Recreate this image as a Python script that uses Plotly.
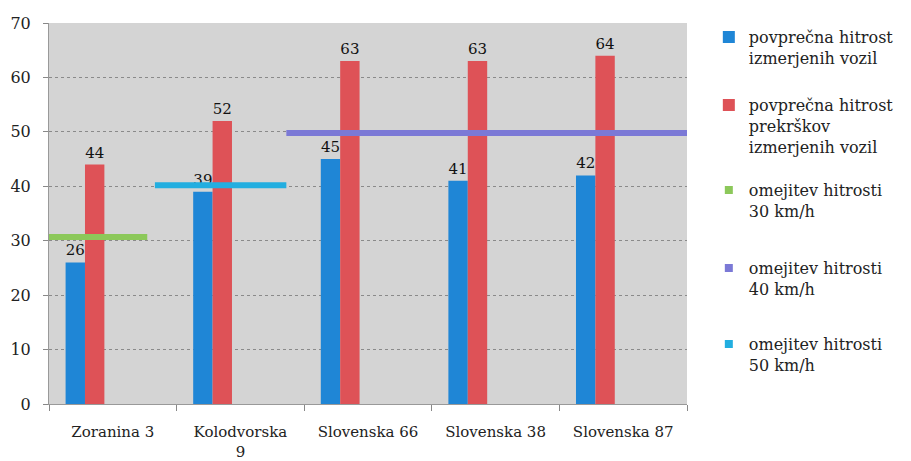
import plotly.graph_objects as go

categories = ["Zoranina 3", "Kolodvorska<br>9", "Slovenska 66", "Slovenska 38", "Slovenska 87"]
avg_speed = [26, 39, 45, 41, 42]
avg_offender_speed = [44, 52, 63, 63, 64]

# speed-limit lines as drawn: (x start, x end) in category units, and level
limit30_x = [-0.5, 0.27]
limit30_y = [30.7, 30.7]
limit_cyan_x = [0.33, 1.36]
limit_cyan_y = [40.2, 40.2]
limit_purple_x = [1.36, 4.5]
limit_purple_y = [49.8, 49.8]

y_ticks = [0, 10, 20, 30, 40, 50, 60, 70]

BLUE = "#1f86d6"
RED = "#de5257"
GREEN = "#8cc85a"
PURPLE = "#7b79d6"
CYAN = "#22aee0"
FONT = "DejaVu Serif"

fig = go.Figure()

fig.add_trace(go.Bar(
    x=categories, y=avg_speed, name="povprečna hitrost<br>izmerjenih vozil",
    marker=dict(color=BLUE, line=dict(width=0)), offset=-0.37, width=0.152,
    text=avg_speed, textposition="outside", cliponaxis=False,
    textfont=dict(family=FONT, size=15, color="#111"), legend="legend",
))
fig.add_trace(go.Bar(
    x=categories, y=avg_offender_speed, name="povprečna hitrost<br>prekrškov<br>izmerjenih vozil",
    marker=dict(color=RED, line=dict(width=0)), offset=-0.218, width=0.152,
    text=avg_offender_speed, textposition="outside", cliponaxis=False,
    textfont=dict(family=FONT, size=15, color="#111"), legend="legend2",
))

for xs, ys, col in [(limit30_x, limit30_y, GREEN), (limit_cyan_x, limit_cyan_y, CYAN),
                    (limit_purple_x, limit_purple_y, PURPLE)]:
    fig.add_trace(go.Scatter(x=xs, y=ys, mode="lines", xaxis="x2",
                             line=dict(color=col, width=6), showlegend=False,
                             hoverinfo="skip"))

# legend entries (square markers) for the limits
for name, col, lg in [("omejitev hitrosti<br>30 km/h", GREEN, "legend3"),
                      ("omejitev hitrosti<br>40 km/h", PURPLE, "legend4"),
                      ("omejitev hitrosti<br>50 km/h", CYAN, "legend5")]:
    fig.add_trace(go.Scatter(x=[None], y=[None], mode="markers", xaxis="x2", name=name,
                             marker=dict(symbol="square", size=8, color=col), legend=lg))

W, H = 911, 461
ML, MR, MT, MB = 49, 219, 23, 57
H_plot = H - MT - MB
W_plot = W - ML - MR

leg_common = dict(font=dict(family=FONT, size=16, color="#222"), bgcolor="rgba(0,0,0,0)",
                  xanchor="left", yanchor="top", itemwidth=30, valign="top",
                  tracegroupgap=0)
legend_y_px = [20, 88, 173, 251, 327]
legs = {}
for i, ypx in enumerate(legend_y_px):
    key = "legend" if i == 0 else f"legend{i+1}"
    yp = (H - MB - ypx) / H_plot
    legs[key] = dict(leg_common, x=(714 - ML) / W_plot, y=yp)

fig.update_layout(
    width=W, height=H,
    margin=dict(l=ML, r=MR, t=MT, b=MB),
    paper_bgcolor="white",
    plot_bgcolor="#d4d4d4",
    barmode="overlay",
    showlegend=True,
    xaxis=dict(type="category", tickson="boundaries", ticks="outside", ticklen=6,
               tickcolor="#888", showgrid=False, showline=True, linecolor="#999",
               automargin=False, ticklabelstandoff=14,
               tickfont=dict(family=FONT, size=15, color="#222"), range=[-0.5, 4.5]),
    xaxis2=dict(overlaying="x", range=[-0.5, 4.5], visible=False),
    yaxis=dict(range=[0, 70], tickvals=y_ticks, ticks="outside", ticklen=5, tickcolor="#888",
               showline=True, linecolor="#999", gridcolor="#8a8a8a", gridwidth=1,
               griddash="dot", zeroline=False, automargin=False, ticklabelstandoff=9,
               tickfont=dict(family=FONT, size=16, color="#222")),
    **legs,
)

fig.write_html("out.html", config={"displayModeBar": False},
               post_script=["document.body.style.margin='0';document.body.style.overflow='hidden';"])
